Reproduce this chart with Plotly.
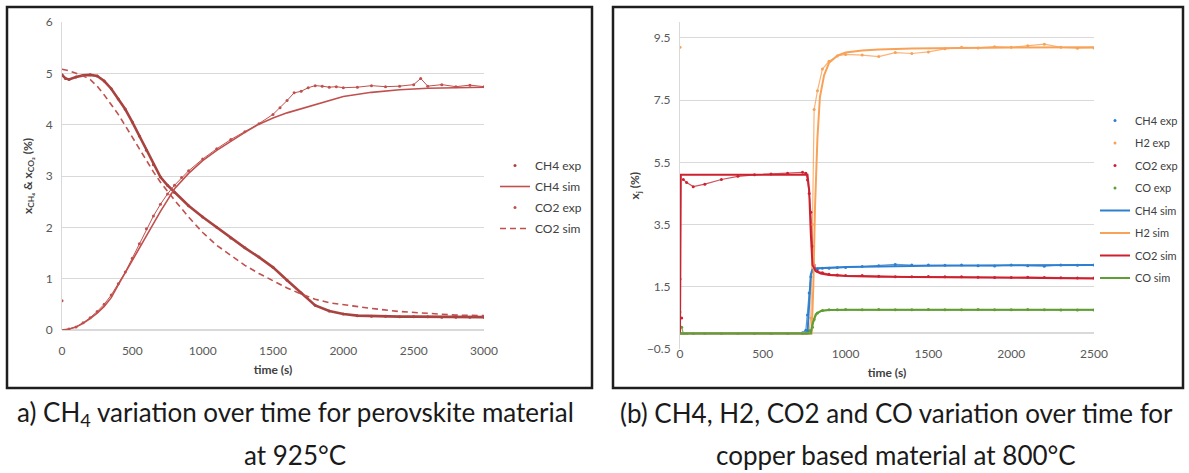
import plotly.graph_objects as go

W, H = 1189, 473

# ---------------- Panel (a) data ----------------
a_ch4_exp_t = [0, 25, 50, 100, 150, 200, 250, 300, 350, 400, 450, 500, 550, 600, 650, 700, 750, 800, 900,
               1000, 1100, 1200, 1300, 1400, 1500, 1600, 1700, 1800, 1900, 2000, 2100, 2200, 2300, 2400,
               2500, 2600, 2700, 2800, 2900, 3000]
a_ch4_exp_v = [4.97, 4.90, 4.88, 4.93, 4.96, 4.97, 4.95, 4.85, 4.70, 4.50, 4.30, 4.05, 3.78, 3.50, 3.22, 2.98,
               2.82, 2.68, 2.42, 2.20, 2.00, 1.79, 1.60, 1.42, 1.22, 0.97, 0.72, 0.48, 0.37, 0.31, 0.28, 0.27,
               0.27, 0.26, 0.26, 0.26, 0.25, 0.25, 0.25, 0.25]

a_ch4_sim_t = [0, 50, 100, 150, 200, 250, 300, 350, 400, 450, 500, 550, 600, 650, 700, 750, 800, 900, 1000,
               1100, 1200, 1300, 1400, 1500, 1600, 1700, 1800, 1900, 2000, 2200, 2400, 2600, 2800, 3000]
a_ch4_sim_v = [0.0, 0.02, 0.06, 0.13, 0.22, 0.33, 0.46, 0.63, 0.88, 1.12, 1.35, 1.60, 1.84, 2.08, 2.31, 2.53,
               2.75, 3.05, 3.30, 3.50, 3.68, 3.85, 4.01, 4.13, 4.23, 4.31, 4.40, 4.48, 4.55, 4.63, 4.68, 4.71,
               4.72, 4.73]

a_co2_exp_t = [0, 50, 100, 150, 200, 250, 300, 350, 400, 450, 500, 550, 600, 650, 700, 750, 800, 850, 900,
               1000, 1100, 1200, 1300, 1400, 1500, 1550, 1600, 1650, 1700, 1750, 1800, 1850, 1900, 1950, 2000,
               2100, 2200, 2300, 2400, 2500, 2550, 2600, 2700, 2800, 2900, 3000]
a_co2_exp_v = [0.57, 0.02, 0.06, 0.14, 0.24, 0.36, 0.50, 0.68, 0.90, 1.13, 1.40, 1.68, 1.97, 2.22, 2.45, 2.65,
               2.82, 2.97, 3.10, 3.33, 3.53, 3.71, 3.86, 4.02, 4.20, 4.33, 4.47, 4.62, 4.65, 4.72, 4.76, 4.75,
               4.73, 4.74, 4.72, 4.73, 4.76, 4.74, 4.75, 4.78, 4.90, 4.75, 4.78, 4.74, 4.77, 4.74]

a_co2_sim_t = [0, 50, 100, 150, 200, 250, 300, 350, 400, 450, 500, 550, 600, 650, 700, 750, 800, 900, 1000,
               1100, 1200, 1300, 1400, 1500, 1600, 1700, 1800, 1900, 2000, 2200, 2400, 2600, 2800, 3000]
a_co2_sim_v = [5.08, 5.05, 5.00, 4.95, 4.88, 4.75, 4.58, 4.40, 4.20, 3.98, 3.75, 3.52, 3.30, 3.08, 2.88, 2.70,
               2.53, 2.20, 1.90, 1.65, 1.45, 1.26, 1.10, 0.96, 0.82, 0.70, 0.60, 0.53, 0.49, 0.42, 0.36, 0.32,
               0.29, 0.28]

# ---------------- Panel (b) data ----------------
b_t = [0, 10, 20, 40, 80, 150, 250, 350, 450, 550, 650, 740, 760, 770, 780, 790, 800, 810, 830, 860, 900,
       950, 1000, 1100, 1200, 1300, 1400, 1500, 1600, 1700, 1800, 1900, 2000, 2100, 2200, 2300, 2400, 2500]
b_ch4_exp = [0.0, 0.0, 0.0, 0.0, 0.0, 0.0, 0.0, 0.0, 0.0, 0.0, 0.0, 0.02, 0.10, 0.59, 1.30, 1.82, 2.00, 2.05,
             2.08, 2.10, 2.10, 2.12, 2.12, 2.15, 2.18, 2.22, 2.20, 2.20, 2.19, 2.20, 2.18, 2.17, 2.20, 2.18,
             2.16, 2.20, 2.19, 2.20]
b_h2_exp = [9.20, 0.0, 0.0, 0.0, 0.0, 0.0, 0.0, 0.0, 0.0, 0.0, 0.0, 0.0, 0.0, 0.02, 0.10, 0.50, 3.50, 7.20,
            7.80, 8.50, 8.75, 8.92, 8.97, 8.95, 8.90, 9.03, 9.00, 9.05, 9.15, 9.20, 9.18, 9.22, 9.20, 9.25,
            9.30, 9.20, 9.17, 9.18]
b_co2_exp = [1.75, 0.50, 4.95, 4.85, 4.72, 4.80, 4.95, 5.05, 5.10, 5.13, 5.15, 5.18, 5.15, 4.93, 4.50, 3.90,
             2.80, 2.20, 2.00, 1.95, 1.90, 1.88, 1.86, 1.86, 1.84, 1.82, 1.82, 1.83, 1.82, 1.82, 1.81, 1.80,
             1.80, 1.81, 1.80, 1.79, 1.78, 1.78]
b_co_exp = [0.69, 0.20, 0.0, 0.0, 0.0, 0.0, 0.0, 0.0, 0.0, 0.0, 0.0, 0.0, 0.02, 0.05, 0.08, 0.10, 0.20, 0.45,
            0.66, 0.74, 0.76, 0.76, 0.77, 0.76, 0.77, 0.76, 0.76, 0.77, 0.76, 0.76, 0.77, 0.76, 0.76, 0.77,
            0.76, 0.75, 0.75, 0.75]

b_ch4_sim_t = [0, 770, 790, 800, 830, 900, 1000, 1500, 2000, 2500]
b_ch4_sim_v = [0.0, 0.0, 1.90, 2.05, 2.10, 2.12, 2.14, 2.18, 2.20, 2.20]
b_h2_sim_t = [0, 795, 805, 815, 830, 845, 870, 900, 950, 1000, 1100, 1200, 1400, 1700, 2000, 2500]
b_h2_sim_v = [0.0, 0.0, 1.5, 4.0, 6.3, 7.6, 8.3, 8.7, 8.93, 9.03, 9.10, 9.13, 9.16, 9.18, 9.19, 9.20]
b_co2_sim_t = [0, 5, 770, 780, 790, 800, 820, 850, 900, 1000, 1200, 1500, 2000, 2500]
b_co2_sim_v = [0.0, 5.10, 5.10, 4.60, 3.20, 2.20, 2.00, 1.93, 1.88, 1.85, 1.82, 1.80, 1.79, 1.77]
b_co_sim_t = [0, 790, 800, 820, 850, 900, 1000, 2500]
b_co_sim_v = [0.0, 0.0, 0.30, 0.62, 0.72, 0.75, 0.76, 0.76]

# tick values
a_xticks = [0, 500, 1000, 1500, 2000, 2500, 3000]
a_yticks = [0, 1, 2, 3, 4, 5, 6]
b_xticks = [0, 500, 1000, 1500, 2000, 2500]
b_yticks = [-0.5, 1.5, 3.5, 5.5, 7.5, 9.5]

# ---------------- styling ----------------
FONT = "Lato"
RED_A = "#c0504d"
RED_A_DARK = "#a9433f"
C_BLUE, C_ORANGE, C_RED, C_GREEN = "#2e7fd0", "#f8a258", "#cc2230", "#5f9e34"


def px_x(p):
    return p / W


def px_y(p):
    return 1 - p / H


fig = go.Figure()

# ---- panel a ----
fig.add_trace(go.Scatter(x=a_ch4_exp_t, y=a_ch4_exp_v, mode="lines", line=dict(color=RED_A_DARK, width=2.6),
                         showlegend=False, hoverinfo="skip", xaxis="x", yaxis="y"))
fig.add_trace(go.Scatter(x=a_co2_exp_t[1:], y=a_co2_exp_v[1:], mode="lines", line=dict(color=RED_A, width=1),
                         showlegend=False, hoverinfo="skip", xaxis="x", yaxis="y"))
fig.add_trace(go.Scatter(x=a_ch4_exp_t, y=a_ch4_exp_v, mode="markers", name="CH4 exp",
                         marker=dict(color=RED_A_DARK, size=3), legend="legend", legendgroup="a1",
                         xaxis="x", yaxis="y"))
fig.add_trace(go.Scatter(x=a_ch4_sim_t, y=a_ch4_sim_v, mode="lines", name="CH4 sim",
                         line=dict(color=RED_A, width=1.6), legend="legend", legendgroup="a2",
                         xaxis="x", yaxis="y"))
fig.add_trace(go.Scatter(x=a_co2_exp_t, y=a_co2_exp_v, mode="markers", name="CO2 exp",
                         marker=dict(color=RED_A, size=3), legend="legend", legendgroup="a3",
                         xaxis="x", yaxis="y"))
fig.add_trace(go.Scatter(x=a_co2_sim_t, y=a_co2_sim_v, mode="lines", name="CO2 sim",
                         line=dict(color=RED_A, width=1.6, dash="6px,4px"), legend="legend", legendgroup="a4",
                         xaxis="x", yaxis="y"))

# ---- panel b ----
exp_series = [("CH4 exp", b_ch4_exp, C_BLUE, 0), ("H2 exp", b_h2_exp, C_ORANGE, 1),
              ("CO2 exp", b_co2_exp, C_RED, 2), ("CO exp", b_co_exp, C_GREEN, 1)]
for name, vals, col, skip in exp_series:
    fig.add_trace(go.Scatter(x=b_t[skip:], y=vals[skip:], mode="lines", line=dict(color=col, width=1.2),
                             opacity=0.8, showlegend=False, hoverinfo="skip", xaxis="x2", yaxis="y2"))
for i, (name, vals, col, skip) in enumerate(exp_series):
    fig.add_trace(go.Scatter(x=b_t, y=vals, mode="markers", name=name, marker=dict(color=col, size=3),
                             legend="legend2", legendgroup="b%d" % i, xaxis="x2", yaxis="y2"))
sim_series = [("CH4 sim", b_ch4_sim_t, b_ch4_sim_v, C_BLUE), ("H2 sim", b_h2_sim_t, b_h2_sim_v, C_ORANGE),
              ("CO2 sim", b_co2_sim_t, b_co2_sim_v, C_RED), ("CO sim", b_co_sim_t, b_co_sim_v, C_GREEN)]
for i, (name, tt, vv, col) in enumerate(sim_series):
    fig.add_trace(go.Scatter(x=tt, y=vv, mode="lines", name=name, line=dict(color=col, width=2),
                             legend="legend2", legendgroup="s%d" % i, xaxis="x2", yaxis="y2"))

tickfont = dict(family=FONT, size=12, color="#595959")
titlefont = dict(family=FONT, size=12, color="#404040")
GRID = "#d9d9d9"

fig.update_layout(
    width=W, height=H,
    margin=dict(l=0, r=0, t=0, b=0, autoexpand=False),
    paper_bgcolor="white", plot_bgcolor="white",
    font=dict(family=FONT, color="#404040"),
    xaxis=dict(domain=[px_x(62), px_x(484)], range=[0, 3000], tickvals=a_xticks, showgrid=False,
               zeroline=False, showline=False, tickfont=tickfont, ticks="", ticklabelstandoff=12,
               title=dict(text="<b>time (s)</b>", font=titlefont, standoff=8), anchor="y"),
    yaxis=dict(domain=[px_y(330), px_y(22)], range=[0, 6], tickvals=a_yticks, showgrid=True, gridcolor=GRID,
               zeroline=True, zerolinecolor=GRID, showline=True, linecolor=GRID, tickfont=tickfont, ticks="",
               ticklabelstandoff=6,
               title=dict(text="<b>x<sub>CH₄</sub> & x<sub>CO₂</sub> (%)</b>", font=titlefont, standoff=10),
               anchor="x"),
    xaxis2=dict(domain=[px_x(680), px_x(1094)], range=[0, 2500], tickvals=b_xticks, showgrid=False,
                zeroline=False, showline=False, tickfont=tickfont, ticks="", ticklabelstandoff=-4,
                title=dict(text="<b>time (s)</b>", font=titlefont, standoff=8), anchor="y2"),
    yaxis2=dict(domain=[px_y(349), px_y(22.4)], range=[-0.5, 10], tickvals=b_yticks, showgrid=True,
                gridcolor=GRID, zeroline=True, zerolinecolor=GRID, showline=True, linecolor=GRID,
                tickfont=tickfont, ticks="", ticklabelstandoff=6,
                title=dict(text="<b>x<sub>j</sub> (%)</b>", font=titlefont, standoff=4), anchor="x2"),
    legend=dict(x=px_x(495), y=px_y(151), xanchor="left", yanchor="top", bgcolor="rgba(0,0,0,0)",
                font=dict(family=FONT, size=12, color="#404040"), tracegroupgap=2, itemwidth=30,
                traceorder="grouped"),
    legend2=dict(x=px_x(1095), y=px_y(106), xanchor="left", yanchor="top", bgcolor="rgba(0,0,0,0)",
                 font=dict(family=FONT, size=11, color="#404040"), tracegroupgap=3.5, itemwidth=30,
                 traceorder="grouped"),
    showlegend=True,
)

# panel borders
for x0, x1 in [(7, 592), (613, 1183)]:
    fig.add_shape(type="rect", xref="paper", yref="paper", x0=px_x(x0), x1=px_x(x1), y0=px_y(388),
                  y1=px_y(7), line=dict(color="#1e1e1e", width=2.5), fillcolor="rgba(0,0,0,0)", layer="above")

cap_font = dict(family=FONT, size=26, color="#1a1a1a")
captions = [
    (295, 413, "a) CH<sub>4</sub> variation over time for perovskite material"),
    (295, 455, "at 925°C"),
    (896, 413, "(b) CH4, H2, CO2 and CO variation over time for"),
    (896, 455, "copper based material at 800°C"),
]
for cx, cy, txt in captions:
    fig.add_annotation(x=px_x(cx), y=px_y(cy), xref="paper", yref="paper", text=txt, showarrow=False,
                       xanchor="center", yanchor="middle", font=cap_font)

fig.write_html("out.html")
